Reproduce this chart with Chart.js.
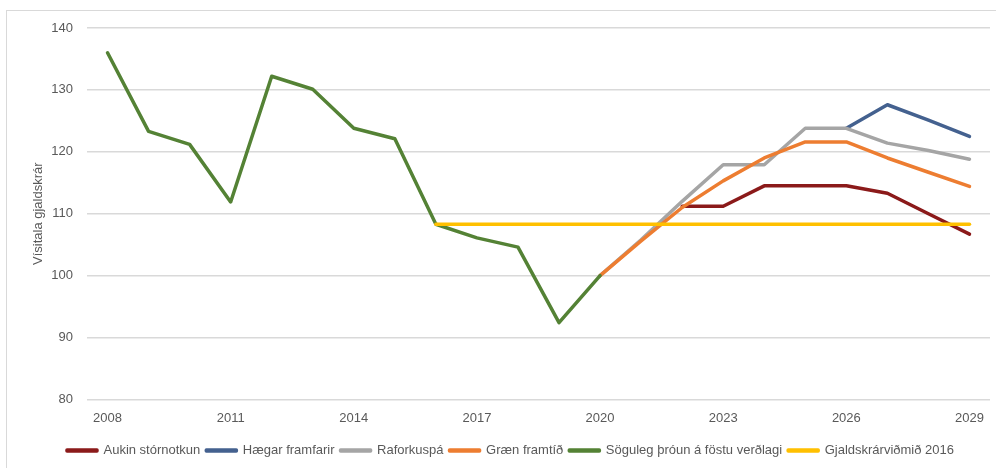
<!DOCTYPE html>
<html>
<head>
<meta charset="utf-8">
<script src="https://cdn.jsdelivr.net/npm/chart.js@4.4.1/dist/chart.umd.min.js"></script>
<style>
  html, body { margin: 0; padding: 0; background: #ffffff; }
  #wrap { position: relative; width: 996px; height: 468px; overflow: hidden; }
  #frame { position: absolute; left: 6px; top: 10px; width: 1200px; height: 600px;
           border-left: 1px solid #d9d9d9; border-top: 1px solid #d9d9d9; }
  canvas { position: absolute; left: 0; top: 0; }
</style>
</head>
<body>
<div id="wrap">
  <div id="frame"></div>
  <canvas id="c" width="996" height="468"></canvas>
</div>
<script>
const years = ['2008','2009','2010','2011','2012','2013','2014','2015','2016','2017','2018',
               '2019','2020','2021','2022','2023','2024','2025','2026','2027','2028','2029'];
const yTicks = [80, 90, 100, 110, 120, 130, 140];
const seriesNames = ['Aukin stórnotkun','Hægar framfarir','Raforkuspá','Græn framtíð',
                     'Söguleg þróun á föstu verðlagi','Gjaldskrárviðmið 2016'];

const aukinStornotkun = [null,null,null,null,null,null,null,null,null,null,null,null,
                         null,null,111.2,111.2,114.5,114.5,114.5,113.3,110.0,106.7];
const haegarFramfarir = [null,null,null,null,null,null,null,null,null,null,null,null,
                         null,null,null,null,null,null,123.8,127.6,125.1,122.5];
const raforkuspa      = [null,null,null,null,null,null,null,null,null,null,null,null,
                         100.0,105.8,112.0,117.9,117.9,123.8,123.8,121.4,120.2,118.8];
const graenFramtid    = [null,null,null,null,null,null,null,null,null,null,null,null,
                         100.0,105.6,111.0,115.3,119.0,121.6,121.6,119.0,116.7,114.4];
const sogulegThroun   = [136.0,123.3,121.2,111.9,132.2,130.1,123.8,122.1,108.3,106.1,104.6,
                         92.4,100.0,null,null,null,null,null,null,null,null,null];
const gjaldskrarvidmid = [null,null,null,null,null,null,null,null,108.3,108.3,108.3,108.3,
                          108.3,108.3,108.3,108.3,108.3,108.3,108.3,108.3,108.3,108.3];

const colors = ['#8b1a1a','#44618f','#a5a5a5','#ed7d31','#548235','#ffc000'];
const allData = [aukinStornotkun, haegarFramfarir, raforkuspa, graenFramtid, sogulegThroun, gjaldskrarvidmid];

const FONT = '"Liberation Sans", Arial, sans-serif';

const datasets = allData.map((d, i) => ({
  label: seriesNames[i],
  data: d,
  borderColor: colors[i],
  backgroundColor: colors[i],
  borderWidth: 3.5,
  pointRadius: 0,
  pointHoverRadius: 0,
  tension: 0,
  spanGaps: false,
  order: allData.length - i,
  borderCapStyle: 'round',
  borderJoinStyle: 'round'
}));

new Chart(document.getElementById('c'), {
  type: 'line',
  data: { labels: years, datasets },
  options: {
    responsive: false,
    animation: false,
    layout: { padding: { left: 31, right: 6, top: 28, bottom: 1 } },
    plugins: {
      tooltip: { enabled: false },
      legend: {
        position: 'bottom',
        labels: {
          sort: (a, b) => a.datasetIndex - b.datasetIndex,
          boxWidth: 30,
          boxHeight: 1,
          padding: 6,
          color: '#595959',
          font: { family: FONT, size: 13 }
        }
      }
    },
    scales: {
      x: {
        offset: true,
        afterFit: (s) => { s.height += 9; },
        grid: { display: false },
        border: { display: false },
        ticks: {
          autoSkip: false,
          maxRotation: 0,
          padding: 3,
          color: '#595959',
          font: { family: FONT, size: 13 },
          callback: function(v, i) { return (i % 3 === 0) ? years[i] : ''; }
        }
      },
      y: {
        min: 80,
        max: 140,
        afterFit: (s) => { s.width = 56; },
        border: { display: false },
        grid: { color: '#d9d9d9', lineWidth: 1.5, drawTicks: false },
        ticks: {
          stepSize: 10,
          padding: 14,
          color: '#595959',
          font: { family: FONT, size: 13 },
          callback: (v) => yTicks.includes(v) ? String(v) : ''
        },
        title: {
          display: true,
          text: 'Vísitala gjaldskrár',
          color: '#595959',
          padding: { top: 0, bottom: 0 },
          font: { family: FONT, size: 13 }
        }
      }
    }
  }
});
</script>
</body>
</html>
